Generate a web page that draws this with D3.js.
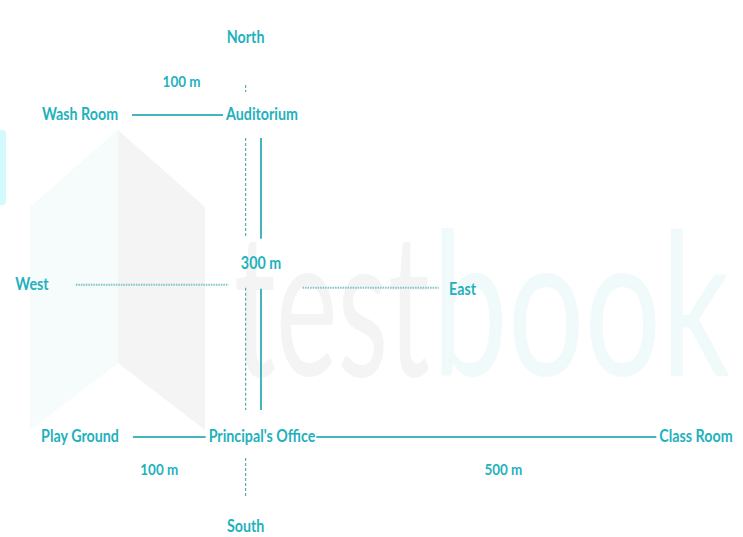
<!DOCTYPE html>
<html>
<head>
<meta charset="utf-8">
<script src="https://cdn.jsdelivr.net/npm/d3@7"></script>
<style>
  html, body { margin: 0; padding: 0; background: #ffffff; }
  svg { display: block; }
</style>
</head>
<body>
<svg id="chart" width="743" height="537"></svg>
<script>
// ---- data ----
const places      = ["Wash Room", "Auditorium", "Play Ground", "Principal's Office", "Class Room"];
const placeEast   = [-100, 0, -100, 0, 500];   // metres east of Principal's Office
const placeNorth  = [300, 300, 0, 0, 0];        // metres north of Principal's Office
const routeFrom   = ["Wash Room", "Auditorium", "Play Ground", "Principal's Office"];
const routeTo     = ["Auditorium", "Principal's Office", "Principal's Office", "Class Room"];
const routeDist   = [100, 300, 100, 500];
const routeLabels = ["100 m", "300 m", "100 m", "500 m"];
const directions  = ["North", "East", "South", "West"];

// ---- styles ----
const TEXT = "#1fb1bd";
const LINE = "#45b5bd";
const DASH = "#5aaab2";
const FONT = "Lato, 'Open Sans', sans-serif";
const FS = 17;
const SX = 0.84;   // condensed look

const svg = d3.select("#chart");

function label(g, px, py, str, size) {
  const t = g.append("text")
    .attr("transform", `translate(${px},${py}) scale(${SX},1)`)
    .attr("text-anchor", "middle").attr("dominant-baseline", "central")
    .attr("font-family", FONT).attr("font-size", size || FS).attr("font-weight", 700)
    .attr("fill", TEXT).text(str);
  const w = t.node().getComputedTextLength() * SX;
  return { left: px - w / 2, right: px + w / 2, width: w };
}

// ---- watermark ----
const wm = svg.append("g");
wm.append("rect").attr("x", -6).attr("y", 130).attr("width", 12).attr("height", 75)
  .attr("rx", 4).attr("fill", "#d2fafc");
const logoL = [[30,207],[118,130],[118,363],[30,430]];
const logoR = [[118,130],[205,207],[205,430],[118,363]];
wm.append("path").attr("d", d3.line()(logoL) + "Z").attr("fill", "#f6fbfb");
wm.append("path").attr("d", d3.line()(logoR) + "Z").attr("fill", "#f4f4f4");
function wmText(str, x0, width, fill) {
  const t = wm.append("text").attr("font-family", "Lato, sans-serif").attr("font-weight", 400)
    .attr("font-size", 200).attr("fill", fill).text(str);
  const len = t.node().getComputedTextLength();
  t.attr("transform", `translate(${x0},376) scale(${width / len},1)`);
}
wmText("test", 234, 196, "#f4f4f4");
wmText("book", 432, 298, "#f1fafa");

// ---- scales (diagram is not to scale: piecewise mapping) ----
const x = d3.scaleLinear().domain([-100, 0, 500]).range([80, 262, 696]);
const y = d3.scaleLinear().domain([0, 300]).range([436, 114]);

const nodes = places.map((p, i) => ({ name: p, e: placeEast[i], n: placeNorth[i] }));
const byName = Object.fromEntries(nodes.map(d => [d.name, d]));

// ---- place labels ----
const lg = svg.append("g");
nodes.forEach(d => { Object.assign(d, label(lg, x(d.e), y(d.n), d.name)); });

// ---- compass ----
const cx = x(-9), cy = y(140);
const compass = svg.append("g");
// North-South axis (dashed, broken where labels sit)
const nsTop = y(300) - 29, nsBot = y(0) + 62;
const cutBands = [[y(300) - 22, y(300) + 24], [cy - 48, cy + 2], [y(0) - 26, y(0) + 22]];
let segs = [], start = nsTop;
cutBands.forEach(([a, b]) => { segs.push([start, a]); start = b; });
segs.push([start, nsBot]);
compass.selectAll("line.ns").data(segs).join("line").attr("class", "ns")
  .attr("x1", cx).attr("x2", cx).attr("y1", d => d[0]).attr("y2", d => d[1])
  .attr("stroke", DASH).attr("stroke-width", 1.2).attr("stroke-dasharray", "3,2");
// West and East arms (dotted)
const weArms = [[x(-127) + 45, cx - 17, cy - 1], [cx + 57, cx + 193, cy + 2]];
compass.selectAll("line.we").data(weArms).join("line").attr("class", "we")
  .attr("x1", d => d[0]).attr("x2", d => d[1]).attr("y1", d => d[2]).attr("y2", d => d[2])
  .attr("stroke", "#7fc3c8").attr("stroke-width", 1.8).attr("stroke-dasharray", "1.5,1");
const dirPos = {
  North: [cx, y(372)], South: [cx, y(-83)], West: [32, cy - 2], East: [cx + 217, cy + 3]
};
directions.forEach(d => label(compass, dirPos[d][0], dirPos[d][1], d));

// ---- routes ----
const routes = routeFrom.map((f, i) => ({ a: byName[f], b: byName[routeTo[i]], dist: routeDist[i], label: routeLabels[i] }));
const rg = svg.append("g");
routes.forEach(r => {
  if (r.a.n === r.b.n) {
    const yy = y(r.a.n) + 1;
    const x1 = r.a.right + (r.a.e < 0 ? 14 : 1), x2 = r.b.left - 3;
    rg.append("line").attr("x1", x1).attr("x2", x2).attr("y1", yy).attr("y2", yy)
      .attr("stroke", LINE).attr("stroke-width", 2);
    const above = r.a.n > 0;
    label(rg, (x1 + x2) / 2 + (above ? 4 : (r.dist > 100 ? 17 : -10)), yy + (above ? -34 : 32), r.label, FS - 1);
  } else {
    const xx = x(r.a.e) - 1;
    const top = y(r.a.n) + 24, bot = y(r.b.n) - 26;
    const ly = cy - 23;
    [[top, ly - 24], [ly + 26, bot]].forEach(s => {
      rg.append("line").attr("x1", xx).attr("x2", xx).attr("y1", s[0]).attr("y2", s[1])
        .attr("stroke", LINE).attr("stroke-width", 2);
    });
    label(rg, xx, ly, r.label);
  }
});
</script>
</body>
</html>
